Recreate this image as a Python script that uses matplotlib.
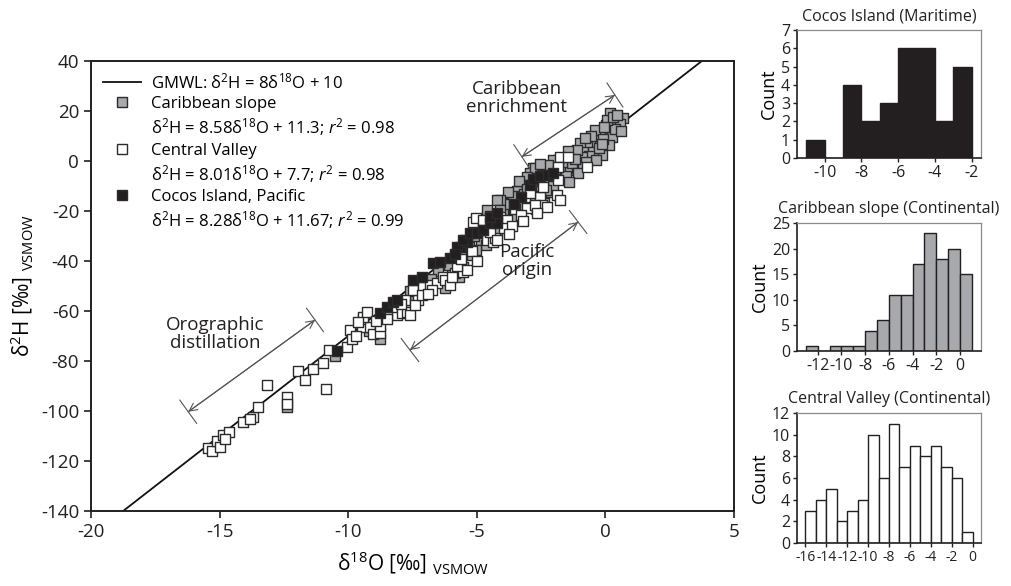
import matplotlib
matplotlib.use("Agg")
import matplotlib.pyplot as plt
from matplotlib.lines import Line2D
import numpy as np

plt.rcParams['font.family'] = ['Open Sans', 'DejaVu Sans']
plt.rcParams['mathtext.fontset'] = 'custom'
plt.rcParams['mathtext.rm'] = 'Open Sans'
plt.rcParams['mathtext.it'] = 'Open Sans:italic'
plt.rcParams['mathtext.bf'] = 'Open Sans:bold'
plt.rcParams['axes.unicode_minus'] = False

# ---------------- data ----------------
carib_x = [0.70, 0.44, 0.18, 0.31, 0.05, 0.10, 0.55, 0.25, 0.02, 0.38, 0.15, 0.60, 0.08, 0.30, 0.47,
           -0.21, -0.34, -0.60, -0.73, -0.99, -0.86, -0.15, -0.47, -0.99, -0.40, -0.10, -0.55, -0.80, -0.25, -0.65, -0.05, -0.90, -0.35, -0.75, -0.15,
           -1.25, -1.38, -1.64, -1.12, -1.25, -1.51, -1.77, -1.83, -1.10, -1.45, -1.30, -1.70, -1.95, -1.55, -1.20, -1.85, -1.05, -1.40,
           -2.03, -2.80, -2.93, -2.67, -2.74, -2.20, -2.45, -2.10, -2.35, -2.60, -2.90, -2.15, -2.50, -2.75, -2.25, -2.55, -2.85, -2.40, -2.95, -2.05, -2.65, -2.30, -2.70,
           -3.06, -3.71, -3.32, -3.71, -3.84, -3.97, -3.20, -3.45, -3.60, -3.15, -3.90, -3.55, -3.35, -3.80, -3.05, -3.50, -3.95,
           -4.10, -4.21, -4.60, -4.10, -4.35, -4.75, -4.50, -4.85, -4.20, -4.95, -4.65,
           -5.54, -5.10, -5.30, -5.60, -5.80, -5.95, -5.20, -5.45, -5.70, -5.85, -5.05,
           -6.24, -6.24, -6.50, -6.80, -6.10, -6.95,
           -7.87, -7.40, -7.60, -7.20,
           -8.76, -9.20, -10.50, -12.37]
carib_y = [17.1, 16.4, 19.1, 14.4, 10.4, 12.8, 15.0, 9.5, 14.4, 13.0, 6.5, 12.2, 16.6, 17.5, 18.6,
           11.1, 8.4, 7.7, 5.7, 7.1, 3.7, 2.4, 3.7, 0.4, 12.5, 9.0, 10.2, 9.4, 5.2, 2.0, 13.8, 1.5, 0.6, -0.5, 6.8,
           3.1, 1.7, 1.1, -2.3, -3.6, -2.9, -2.3, -4.9, 4.5, 4.0, -0.8, -0.2, -3.0, -6.0, 0.8, 0.3, -4.8, -8.5,
           0.4, -2.9, -4.9, -4.9, -2.9, -3.5, -5.5, -7.5, -9.0, -10.5, -12.0, -12.5, -14.0, -16.0, -1.5, -1.0, -8.0, -16.8, -15.0, -10.0, -7.0, -11.5, -19.0,
           -6.3, -15.6, -18.3, -16.9, -18.3, -20.9, -9.5, -12.0, -14.0, -13.0, -23.5, -20.0, -8.0, -12.5, -11.0, -22.5, -17.0,
           -15.6, -15.6, -19.6, -19.6, -24.0, -27.0, -22.0, -31.5, -28.0, -25.0, -33.5,
           -42.4, -30.0, -34.5, -36.0, -41.0, -44.0, -37.5, -31.5, -46.5, -38.0, -35.5,
           -48.4, -50.8, -44.0, -47.0, -41.5, -52.0,
           -58.8, -55.0, -52.0, -50.0,
           -71.2, -68.0, -78.0, -98.5]

central_x = [-15.44, -15.31, -15.10,
             -14.98, -14.86, -14.62, -14.80,
             -14.08, -13.69, -13.49, -13.80, -13.17,
             -12.37, -12.37,
             -11.95, -11.68, -11.35,
             -10.97, -10.86, -10.73, -10.06,
             -9.93, -9.86, -9.48, -9.41, -9.15, -9.42, -9.70, -9.25, -9.60, -9.05,
             -8.76, -8.76, -8.10, -8.50, -8.30, -8.90,
             -7.91, -7.67, -7.29, -7.79, -7.71, -7.60, -7.48, -7.09, -7.40, -7.95, -7.15,
             -6.82, -6.55, -6.74, -6.31, -6.24, -6.90, -6.05,
             -5.85, -5.54, -5.38, -5.77, -5.15, -5.02, -5.20, -5.60, -5.95,
             -4.98, -4.60, -4.37, -4.29, -4.49, -4.74, -4.23, -4.10,
             -3.84, -3.95, -3.12, -3.06, -3.50, -3.65, -3.30, -3.20, -3.75,
             -2.54, -2.48, -2.74, -2.93, -2.28, -2.67, -2.41,
             -1.77, -1.44, -1.83, -1.83, -1.90, -1.77,
             -0.73]
central_y = [-114.9, -115.9, -112.0,
             -114.5, -109.6, -108.5, -111.0,
             -104.5, -102.5, -98.3, -103.0, -89.6,
             -94.3, -97.0,
             -83.9, -87.6, -83.0,
             -80.7, -91.2, -75.6, -74.3,
             -67.6, -71.0, -66.3, -63.0, -66.4, -62.4, -70.0, -60.5, -64.5, -69.0,
             -68.6, -66.0, -61.6, -63.0, -58.5, -64.0,
             -60.8, -59.6, -55.6, -55.6, -60.4, -61.6, -51.6, -50.4, -57.5, -57.0, -53.5,
             -49.6, -48.8, -51.5, -46.4, -47.6, -53.0, -49.5,
             -44.8, -44.4, -43.6, -42.0, -24.4, -22.9, -36.0, -39.0, -46.5,
             -40.0, -31.6, -32.4, -30.8, -28.4, -23.6, -31.6, -22.3,
             -23.6, -26.9, -14.3, -18.9, -19.0, -26.0, -21.5, -24.0, -29.0,
             -14.3, -17.6, -17.6, -12.9, -18.3, -20.9, -10.3,
             1.7, 1.7, -2.3, -7.6, -13.6, -15.6,
             -2.3]

cocos_x = [-10.45,
           -8.76, -8.49, -8.26, -8.10,
           -7.48, -7.13,
           -6.70, -6.43, -6.04,
           -5.65, -5.38, -5.78, -5.52, -5.26, -5.85,
           -4.99, -4.76, -4.49, -4.21, -4.49, -4.23,
           -3.30, -3.55,
           -2.95, -2.80, -2.55, -2.25, -2.05]
cocos_y = [-75.9,
           -60.8, -58.4, -56.4, -55.6,
           -47.6, -46.4,
           -40.8, -40.4, -38.8,
           -34.4, -32.4, -34.3, -31.6, -28.9, -37.0,
           -28.8, -27.6, -24.8, -24.8, -22.3, -20.9,
           -14.5, -17.0,
           -9.5, -7.0, -6.0, -5.5, -4.8]

# GMWL
gmwl_slope, gmwl_intercept = 8.0, 10.0
gmwl_x = [-20.0, 5.0]

# histogram counts (bin left edges, width 1)
cocos_edges = [-11, -10, -9, -8, -7, -6, -5, -4, -3]
cocos_counts = [1, 0, 4, 2, 3, 6, 6, 2, 5]
carib_edges = [-13, -12, -11, -10, -9, -8, -7, -6, -5, -4, -3, -2, -1, 0]
carib_counts = [1, 0, 1, 1, 1, 4, 6, 11, 11, 17, 23, 18, 20, 15]
central_edges = [-16, -15, -14, -13, -12, -11, -10, -9, -8, -7, -6, -5, -4, -3, -2, -1]
central_counts = [3, 4, 5, 2, 3, 4, 10, 6, 11, 7, 9, 8, 9, 7, 6, 1]

# ---------------- figure ----------------
BLACK = '#231f20'
GREY = '#a7a9ac'
EDGE = '#2b2b2b'

fig = plt.figure(figsize=(10.11, 5.86), dpi=100)
ax = fig.add_axes([91/1011, (586-511)/586, (734-91)/1011, (511-61)/586])

gx = np.array(gmwl_x)
ax.plot(gx, gmwl_slope*gx + gmwl_intercept, color='#111111', lw=1.3, zorder=1)

ms = 48
ax.scatter(carib_x, carib_y, marker='s', s=ms, facecolor=GREY, edgecolor=EDGE, linewidths=1.0, zorder=2)
ax.scatter(central_x, central_y, marker='s', s=ms, facecolor='white', edgecolor=EDGE, linewidths=1.0, zorder=3)
ax.scatter(cocos_x, cocos_y, marker='s', s=ms, facecolor=BLACK, edgecolor=EDGE, linewidths=1.0, zorder=4)

ax.set_xlim(-20, 5)
ax.set_ylim(-140, 40)
ax.set_xticks(range(-20, 6, 5))
ax.set_yticks(range(-140, 41, 20))
ax.tick_params(direction='out', length=5, width=1.2, labelsize=13.5, colors='#231f20')
for s in ax.spines.values():
    s.set_linewidth(1.4)
    s.set_color('#231f20')

ax.set_xlabel(r'δ$^{18}$O [‰] $_{\mathrm{VSMOW}}$', fontsize=15, labelpad=6)
ax.set_ylabel(r'δ$^{2}$H [‰] $_{\mathrm{VSMOW}}$', fontsize=15, labelpad=4)

# legend
h_line = Line2D([], [], color='#111111', lw=1.3)
h_c = Line2D([], [], marker='s', ls='none', ms=7, mfc=GREY, mec=EDGE, mew=1.0)
h_v = Line2D([], [], marker='s', ls='none', ms=7, mfc='white', mec=EDGE, mew=1.0)
h_k = Line2D([], [], marker='s', ls='none', ms=7, mfc=BLACK, mec=EDGE, mew=1.0)
h_n = Line2D([], [], ls='none')
labels = [r'GMWL: δ$^{2}$H = 8δ$^{18}$O + 10',
          'Caribbean slope',
          r'δ$^{2}$H = 8.58δ$^{18}$O + 11.3; $r^{2}$ = 0.98',
          'Central Valley',
          r'δ$^{2}$H = 8.01δ$^{18}$O + 7.7; $r^{2}$ = 0.98',
          'Cocos Island, Pacific',
          r'δ$^{2}$H = 8.28δ$^{18}$O + 11.67; $r^{2}$ = 0.99']
leg = ax.legend([h_line, h_c, h_n, h_v, h_n, h_k, h_n], labels,
                loc='upper left', bbox_to_anchor=(0.018, 0.975), frameon=False,
                fontsize=12, handlelength=2.3, handletextpad=0.6,
                labelspacing=0.25, borderpad=0, borderaxespad=0)

# annotations
arrow_kw = dict(arrowstyle='<->', color='#555555', lw=0.8, mutation_scale=14,
                shrinkA=0, shrinkB=0)
bar_kw = dict(arrowstyle='|-|, widthA=0.75, widthB=0.75', color='#555555', lw=0.8,
              mutation_scale=14, shrinkA=0, shrinkB=0)
arrows = [((-3.25, 1.7), (0.37, 26.4)),
          ((-7.6, -75.6), (-1.06, -24.4)),
          ((-16.22, -100.3), (-11.29, -63.6))]
for a, b in arrows:
    ax.annotate('', xy=b, xytext=a, arrowprops=arrow_kw)
    ax.annotate('', xy=b, xytext=a, arrowprops=bar_kw)

ax.text(-3.44, 25.2, 'Caribbean\nenrichment', ha='center', va='center', fontsize=13.5,
        linespacing=1.0, color='#231f20')
ax.text(-3.05, -40.0, 'Pacific\norigin', ha='center', va='center', fontsize=13.5,
        linespacing=1.0, color='#231f20')
ax.text(-15.18, -69.2, 'Orographic\ndistillation', ha='center', va='center', fontsize=13.5,
        linespacing=1.0, color='#231f20')

# ---------------- histograms ----------------
def hist_axes(rect, edges, counts, color, title, xlim, ylim, xticks, yticks, xlabsize=11.5):
    h = fig.add_axes(rect)
    h.bar(edges, counts, width=1.0, align='edge', color=color, edgecolor='#231f20', linewidth=1.0)
    h.set_xlim(*xlim)
    h.set_ylim(*ylim)
    h.set_xticks(xticks)
    h.set_yticks(yticks)
    h.set_xticklabels([str(t) for t in xticks])
    h.tick_params(direction='out', length=3, width=1.0, labelsize=11.5, pad=2, colors='#231f20')
    h.tick_params(axis='x', labelsize=xlabsize)
    h.spines['left'].set_color('#231f20')
    h.spines['bottom'].set_color('#231f20')
    h.spines['left'].set_linewidth(1.2)
    h.spines['bottom'].set_linewidth(1.2)
    for k in ('top', 'right'):
        h.spines[k].set_color('#8a8a8a')
        h.spines[k].set_linewidth(0.9)
    h.set_title(title, fontsize=11.5, pad=7, color='#231f20')
    h.set_ylabel('Count', fontsize=13, labelpad=2)
    return h

W = 184/1011
hist_axes([797/1011, (586-158)/586, W, 128/586], cocos_edges, cocos_counts, BLACK,
          'Cocos Island (Maritime)', (-11.5, -1.5), (0, 7),
          [-10, -8, -6, -4, -2], range(0, 8))
hist_axes([797/1011, (586-351)/586, W, 128/586], carib_edges, carib_counts, GREY,
          'Caribbean slope (Continental)', (-13.75, 1.77), (0, 25),
          [-12, -10, -8, -6, -4, -2, 0], range(0, 26, 5))
hist_axes([797/1011, (586-543)/586, W, 130/586], central_edges, central_counts, 'white',
          'Central Valley (Continental)', (-16.8, 0.8), (0, 12),
          [-16, -14, -12, -10, -8, -6, -4, -2, 0], range(0, 13, 2), xlabsize=10)

fig.savefig('out.png', dpi=100)
